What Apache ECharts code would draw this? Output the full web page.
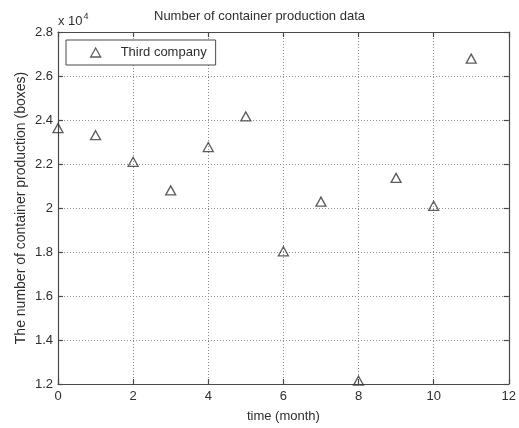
<!DOCTYPE html>
<html>
<head>
<meta charset="utf-8">
<script src="https://cdn.jsdelivr.net/npm/echarts@6/dist/echarts.min.js"></script>
<style>
html,body{margin:0;padding:0;background:#fff;}
#chart{width:519px;height:428px;}
</style>
</head>
<body>
<div id="chart"></div>
<script>
const months = [0, 1, 2, 3, 4, 5, 6, 7, 8, 9, 10, 11];
const production = [23630, 23310, 22100, 20800, 22770, 24160, 18030, 20290, 12150, 21370, 20100, 26790];
const seriesName = 'Third company';
const titleText = 'Number of container production data';
const xName = 'time (month)';
const yName = 'The number of container production (boxes)';

const FONT = 'Liberation Sans, Arial, sans-serif';
const TXT = '#2e2e2e';
const AX = '#4a4a4a';

const chart = echarts.init(document.getElementById('chart'), null, {renderer: 'canvas'});
const data = months.map((m, i) => [m, production[i]]);

const baseX = {
  type: 'value', min: 0, max: 12, interval: 2,
  axisLine: {show: true, onZero: false, lineStyle: {color: AX, width: 1.2}},
  axisTick: {show: true, inside: true, length: 5, lineStyle: {color: AX, width: 1.2}},
};
const baseY = {
  type: 'value', min: 12000, max: 28000, interval: 2000,
  axisLine: {show: true, onZero: false, lineStyle: {color: AX, width: 1.2}},
  axisTick: {show: true, inside: true, length: 5, lineStyle: {color: AX, width: 1.2}},
};

chart.setOption({
  backgroundColor: '#fff',
  animation: false,
  title: {
    text: titleText, left: 'center', top: 5,
    textStyle: {fontFamily: FONT, fontSize: 13, fontWeight: 'normal', color: TXT}
  },
  grid: {left: 58, right: 8, top: 32, bottom: 41, containLabel: false},
  legend: {
    left: 66, top: 40, orient: 'vertical',
    backgroundColor: '#fff', borderColor: AX, borderWidth: 1,
    padding: [6, 9, 6, 24], itemWidth: 10, itemHeight: 9,
    textStyle: {fontFamily: FONT, fontSize: 13, color: TXT, padding: [0, 0, 0, 15]},
    data: [{name: seriesName, icon: 'triangle', itemStyle: {color: 'rgba(0,0,0,0)', borderColor: '#333', borderWidth: 1.3}}]
  },
  xAxis: [
    Object.assign({}, baseX, {
      position: 'bottom',
      name: xName, nameLocation: 'middle', nameGap: 26, nameMoveOverlap: false,
      nameTextStyle: {fontFamily: FONT, fontSize: 13, color: TXT},
      axisLabel: {fontFamily: FONT, fontSize: 13, color: TXT, margin: 6},
      splitLine: {show: true, lineStyle: {color: '#8a8a8a', type: [1, 2], width: 1}}
    }),
    Object.assign({}, baseX, {
      position: 'top', axisLabel: {show: false}, splitLine: {show: false}
    })
  ],
  yAxis: [
    Object.assign({}, baseY, {
      position: 'left',
      name: yName, nameLocation: 'middle', nameGap: 30, nameMoveOverlap: false,
      nameTextStyle: {fontFamily: FONT, fontSize: 14, color: TXT},
      axisLabel: {
        fontFamily: FONT, fontSize: 13, color: TXT, margin: 5,
        formatter: v => String(+(v / 10000).toFixed(1))
      },
      splitLine: {show: true, lineStyle: {color: '#8a8a8a', type: [1, 2], width: 1}}
    }),
    Object.assign({}, baseY, {
      position: 'right', axisLabel: {show: false}, splitLine: {show: false}
    })
  ],
  graphic: [{
    type: 'text', left: 58, top: 12,
    style: {
      text: '{a|x 10}{b|4}',
      rich: {
        a: {fontFamily: FONT, fontSize: 13, fill: TXT, verticalAlign: 'bottom', lineHeight: 16},
        b: {fontFamily: FONT, fontSize: 9, fill: TXT, verticalAlign: 'top', lineHeight: 16, padding: [0, 0, 8, 1]}
      }
    }
  }],
  series: [{
    name: seriesName, type: 'scatter', xAxisIndex: 0, yAxisIndex: 0,
    symbol: 'triangle', symbolSize: [10, 9], clip: false,
    itemStyle: {color: 'rgba(0,0,0,0)', borderColor: '#333', borderWidth: 1.3},
    data: data
  }]
});
</script>
</body>
</html>
